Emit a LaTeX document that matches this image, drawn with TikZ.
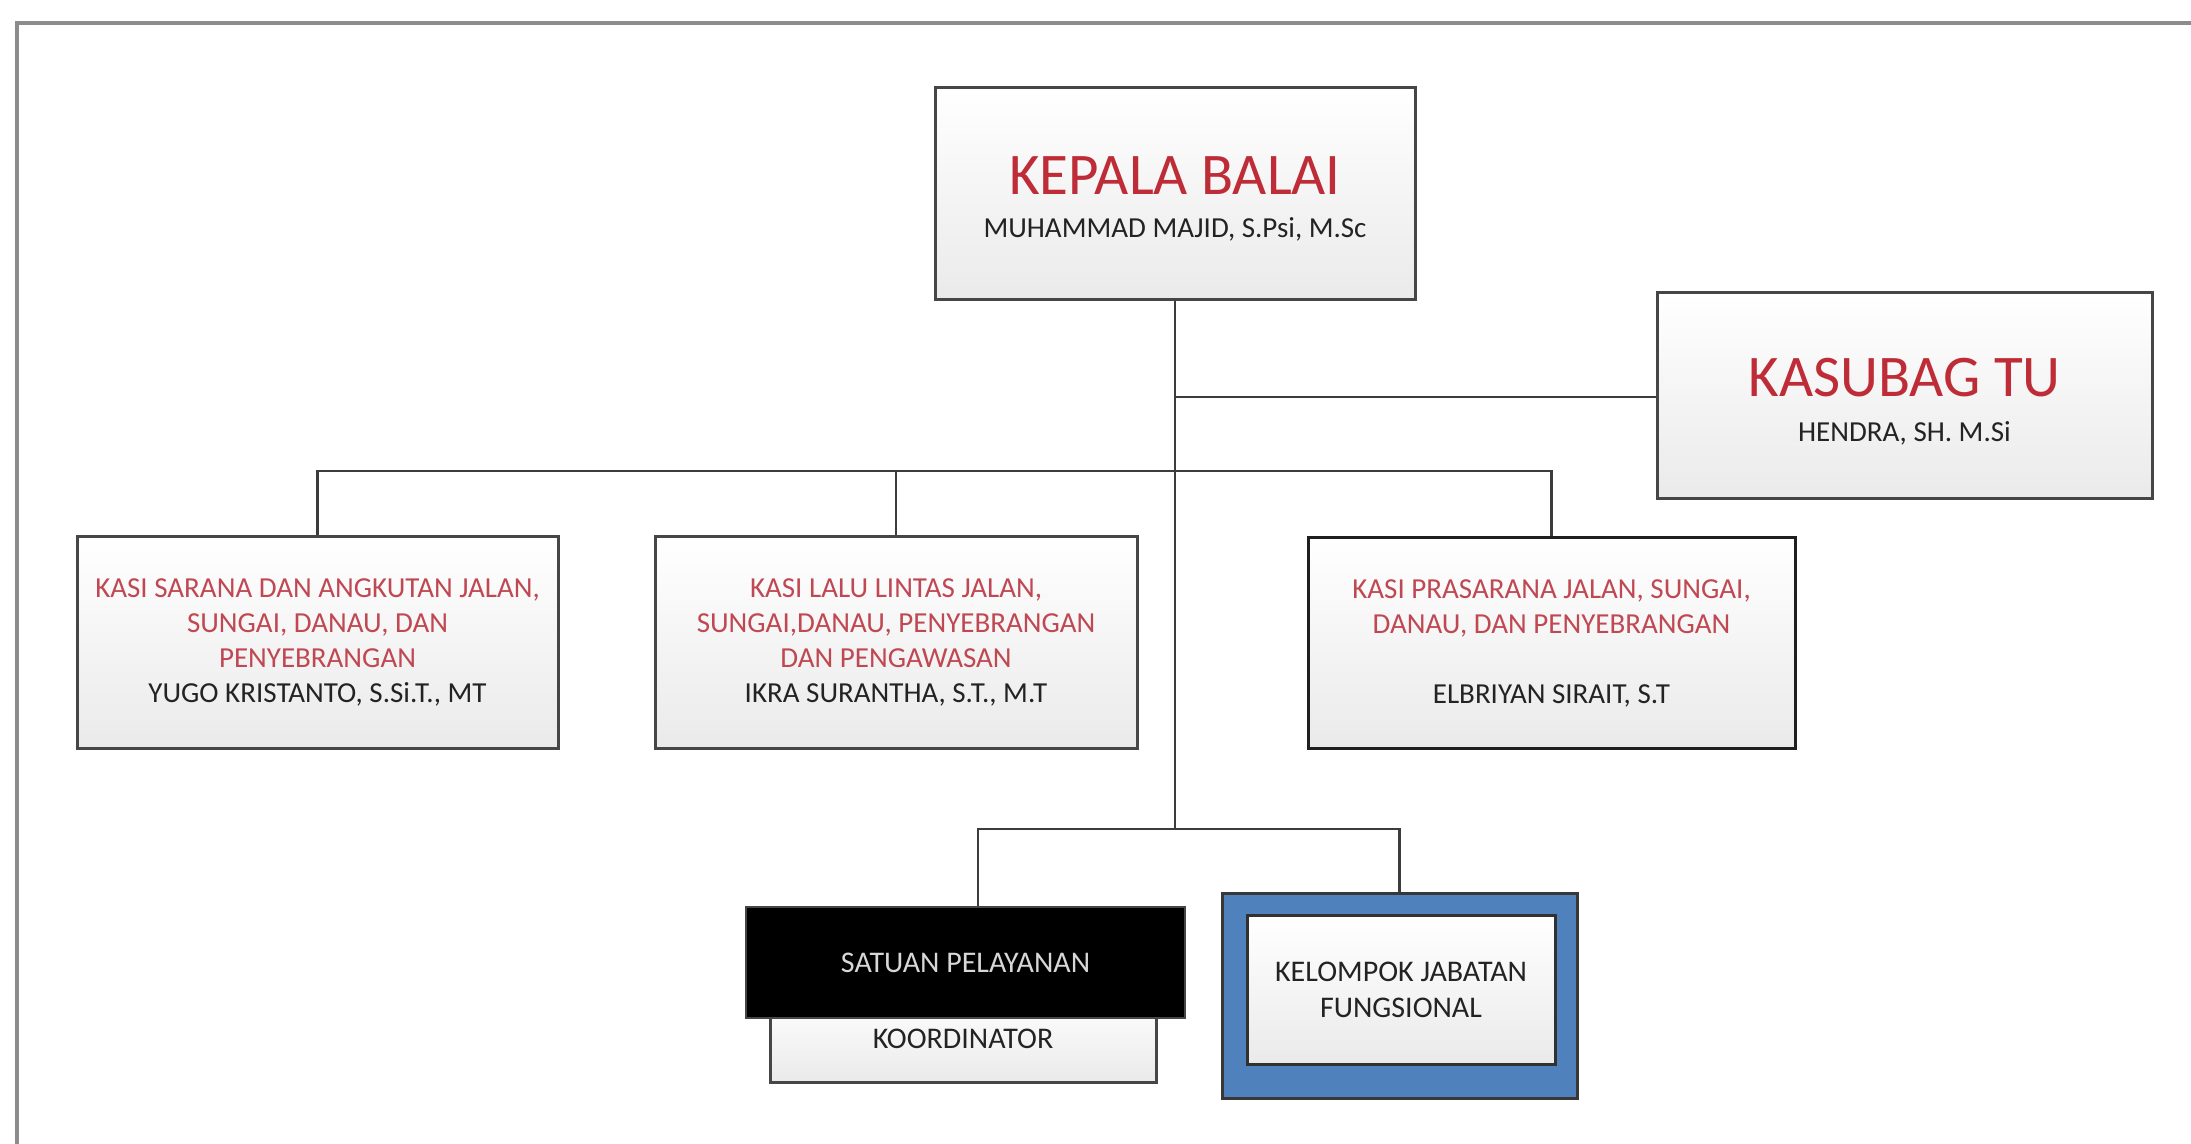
\documentclass[tikz,border=0pt]{standalone}
\usepackage{fontspec}
\setmainfont{Carlito}
\definecolor{boxline}{RGB}{70,70,70}
\definecolor{boxfill}{RGB}{234,234,234}
\definecolor{headred}{RGB}{190,45,55}
\definecolor{kasired}{RGB}{192,72,82}
\definecolor{nametext}{RGB}{35,35,35}
\definecolor{linkgray}{RGB}{60,60,60}
\definecolor{framegray}{RGB}{140,140,140}
\definecolor{fungsiblue}{RGB}{79,129,189}
\begin{document}
\begin{tikzpicture}[x=0.5pt,y=-0.5pt,
  box/.style={draw=boxline, line width=1.5pt, top color=white, bottom color=boxfill,
    align=center, inner sep=0pt, text=nametext},
  headtext/.style={align=center, inner sep=0pt, text=nametext},
  kasibox/.style={box, font=\fontsize{14.5}{17.5}\selectfont},
  link/.style={draw=linkgray, line width=1.3pt},
]
\useasboundingbox (0,0) rectangle (2191,1144);

% page frame
\draw[draw=framegray, line width=1.6pt] (17,1150) -- (17,23) -- (2195,23);

% top level
\node[box, minimum width=240pt, minimum height=106pt] (kepala) at (1175,194) {};
\node[headtext, font=\fontsize{14.5}{21.7}\selectfont] (kepalatext) at (1175,199)
  {{\fontsize{29.5}{21.7}\selectfont\color{headred}KEPALA BALAI}\\MUHAMMAD MAJID, S.Psi, M.Sc};
\node[box, minimum width=247.5pt, minimum height=103pt] (kasubag) at (1904.5,396) {};
\node[headtext, font=\fontsize{14.5}{22.5}\selectfont] (kasubagtext) at (1904.5,401.5)
  {{\fontsize{29.5}{22.5}\selectfont\color{headred}KASUBAG TU}\\HENDRA, SH. M.Si};

% sections
\node[kasibox, minimum width=240.5pt, minimum height=105.5pt] (sarana) at (317.5,642.5)
  {\color{kasired}KASI SARANA DAN ANGKUTAN JALAN,\\\color{kasired}SUNGAI, DANAU, DAN\\\color{kasired}PENYEBRANGAN\\YUGO KRISTANTO, S.Si.T., MT};
\node[kasibox, minimum width=241pt, minimum height=105.5pt] (lalu) at (896,642.5)
  {\color{kasired}KASI LALU LINTAS JALAN,\\\color{kasired}SUNGAI,DANAU, PENYEBRANGAN\\\color{kasired}DAN PENGAWASAN\\IKRA SURANTHA, S.T., M.T};
\node[kasibox, draw=black!88, minimum width=243.5pt, minimum height=105pt] (prasarana) at (1551.5,643)
  {\color{kasired}KASI PRASARANA JALAN, SUNGAI,\\\color{kasired}DANAU, DAN PENYEBRANGAN\\[17.5pt]ELBRIYAN SIRAIT, S.T};

% service unit with its coordinator strip underneath
\node[box, font=\fontsize{15}{18}\selectfont, minimum width=193pt, minimum height=43pt] (koord) at (963,1039)
  {KOORDINATOR};
\node[draw=boxline, line width=1.2pt, fill=black, text={rgb,255:red,215;green,215;blue,215},
  font=\fontsize{15}{18}\selectfont, inner sep=0pt, minimum width=219.5pt, minimum height=55.5pt]
  (satuan) at (965.5,962.5) {SATUAN PELAYANAN};

% functional group
\node[draw=boxline!80!black, line width=1.5pt, fill=fungsiblue, inner sep=0pt,
  minimum width=177.5pt, minimum height=102.5pt] (fungsi) at (1399.5,995.5) {};
\node[box, draw=boxline!70!black, font=\fontsize{15}{18}\selectfont,
  minimum width=154pt, minimum height=74.5pt] (fungsiin) at (1401,990)
  {KELOMPOK JABATAN\\FUNGSIONAL};

% connectors
\coordinate (jTU) at (1175,397);
\coordinate (jK) at (1175,471);
\coordinate (jB) at (1175,829);
\coordinate (sDrop) at (978,829);
\draw[link] (kepala.south) -- (jB);
\draw[link] (jTU) -- (kasubag.west |- jTU);
\draw[link] (sarana.north) |- (jK) -| (prasarana.north);
\draw[link] (lalu.north) -- (lalu.north |- jK);
\draw[link] (satuan.north -| sDrop) -- (sDrop) -| (fungsi.north);
\end{tikzpicture}
\end{document}
